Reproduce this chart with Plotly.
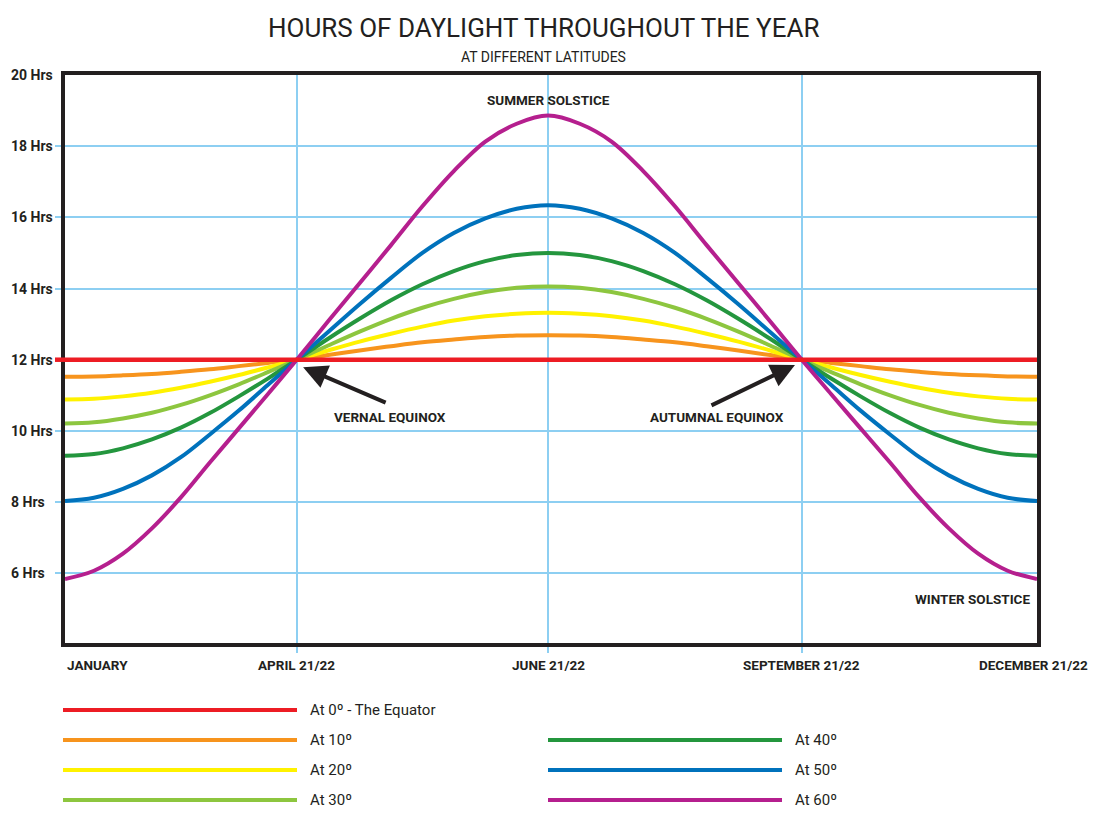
import plotly.graph_objects as go

# ---------------- data ----------------
# x: position along the year axis (0 = January, 100 = December 21/22)
x_pos = [0, 2.98, 5.96, 8.94, 11.92, 14.9, 17.88, 20.86, 23.84,
         27.07, 30.31, 33.54, 36.77, 40.0, 43.24, 46.47, 49.7,
         52.96, 56.23, 59.49, 62.75, 66.01, 69.28, 72.54, 75.8,
         78.83, 81.85, 84.88, 87.9, 90.93, 93.95, 96.98, 100]

tick_x = [0, 23.84, 49.7, 75.8, 100]
tick_text = ["JANUARY", "APRIL 21/22", "JUNE 21/22", "SEPTEMBER 21/22", "DECEMBER 21/22"]

y_ticks = [20, 18, 16, 14, 12, 10, 8, 6]
y_tick_text = ["20 Hrs", "18 Hrs", "16 Hrs", "14 Hrs", "12 Hrs", "10 Hrs", "8 Hrs", "6 Hrs"]

equator_x = [0, 100]
lat_0 = [12, 12]
lat_10 = [11.52, 11.53, 11.56, 11.60, 11.66, 11.73, 11.82, 11.91, 12,
          12.13, 12.26, 12.38, 12.49, 12.57, 12.64, 12.68, 12.69,
          12.68, 12.64, 12.57, 12.49, 12.38, 12.26, 12.13, 12,
          11.91, 11.82, 11.73, 11.66, 11.60, 11.56, 11.53, 11.52]
lat_20 = [10.88, 10.90, 10.97, 11.07, 11.21, 11.38, 11.57, 11.78, 12,
          12.26, 12.51, 12.73, 12.93, 13.10, 13.22, 13.29, 13.32,
          13.29, 13.22, 13.10, 12.93, 12.73, 12.51, 12.26, 12,
          11.78, 11.57, 11.38, 11.21, 11.07, 10.97, 10.90, 10.88]
lat_30 = [10.21, 10.24, 10.35, 10.51, 10.73, 11.00, 11.31, 11.65, 12,
          12.40, 12.79, 13.15, 13.46, 13.71, 13.90, 14.02, 14.06,
          14.02, 13.90, 13.71, 13.46, 13.15, 12.79, 12.40, 12,
          11.65, 11.31, 11.00, 10.73, 10.51, 10.35, 10.24, 10.21]
lat_40 = [9.30, 9.35, 9.51, 9.76, 10.09, 10.50, 10.97, 11.47, 12,
          12.59, 13.15, 13.67, 14.12, 14.49, 14.77, 14.94, 15.0,
          14.94, 14.77, 14.49, 14.12, 13.67, 13.15, 12.59, 12,
          11.47, 10.97, 10.50, 10.09, 9.76, 9.51, 9.35, 9.30]
lat_50 = [8.03, 8.12, 8.37, 8.75, 9.26, 9.90, 10.57, 11.29, 12,
          12.78, 13.56, 14.30, 15.00, 15.56, 15.97, 16.24, 16.34,
          16.24, 15.97, 15.56, 15.00, 14.30, 13.56, 12.78, 12,
          11.29, 10.57, 9.90, 9.26, 8.75, 8.37, 8.12, 8.03]
lat_60 = [5.84, 6.07, 6.55, 7.26, 8.13, 9.11, 10.07, 11.03, 12,
          13.08, 14.15, 15.22, 16.31, 17.30, 18.13, 18.63, 18.86,
          18.63, 18.13, 17.30, 16.31, 15.22, 14.15, 13.08, 12,
          11.03, 10.07, 9.11, 8.13, 7.26, 6.55, 6.07, 5.84]

series_names = ["At 0º - The Equator", "At 10º", "At 20º", "At 30º", "At 40º", "At 50º", "At 60º"]
series_values = [lat_0, lat_10, lat_20, lat_30, lat_40, lat_50, lat_60]
series_colors = ["#ED1C24", "#F7941D", "#FFF200", "#8DC63F", "#24963E", "#0072BC", "#B51F8E"]

# ---------------- figure ----------------
FONT = "Roboto, Lato, sans-serif"
INK = "#231F20"
GRID = "#8DCFF2"

W, H = 1100, 826
L, R, T, B = 65, 63, 75, 183
pw, ph = W - L - R, H - T - B

def px_x(p):
    return (p - L) / pw

def px_y(p):
    return (H - B - p) / ph

fig = go.Figure()

# latitudes (others first, equator last so it sits on top)
for i in list(range(1, 7)) + [0]:
    xs = equator_x if i == 0 else x_pos
    fig.add_trace(go.Scatter(
        x=xs, y=series_values[i], mode="lines", name=series_names[i],
        line=dict(color=series_colors[i], width=4.5 if i == 0 else 4, shape="spline", smoothing=1.0),
        showlegend=False, hoverinfo="skip"))

shapes = []
annotations = []

# red stub of the 12 Hrs line left of the frame
shapes.append(dict(type="line", xref="paper", yref="y", x0=px_x(55), x1=0, y0=12, y1=12,
                   line=dict(color=series_colors[0], width=4.5)))

bold = dict(family=FONT, size=14, color=INK, weight="bold")

# y labels
for v, t in zip(y_ticks, y_tick_text):
    annotations.append(dict(xref="paper", yref="y", x=px_x(9), y=v, text=t, showarrow=False,
                            xanchor="left", yanchor="middle", font=bold))

# x labels
for i, (v, t) in enumerate(zip(tick_x, tick_text)):
    anchor = "left" if i == 0 else "center"
    annotations.append(dict(xref="x", yref="paper", x=v, y=px_y(665), text=t, showarrow=False,
                            xanchor=anchor, yanchor="middle", xshift=-4 if i == 4 else 0,
                            font=dict(family=FONT, size=13.5, color=INK, weight="bold")))

lab_font = dict(family=FONT, size=13.5, color=INK, weight="bold")
annotations += [
    dict(x=49.7, y=19.31, text="SUMMER SOLSTICE", showarrow=False, font=lab_font),
    dict(x=33.4, y=10.39, text="VERNAL EQUINOX", showarrow=False, font=lab_font),
    dict(x=67.1, y=10.39, text="AUTUMNAL EQUINOX", showarrow=False, font=lab_font),
    dict(x=99.5, y=5.28, text="WINTER SOLSTICE", showarrow=False, xanchor="right", font=lab_font),
    # arrows
    dict(x=24.5, y=11.79, ax=84, ay=36, text="", showarrow=True, arrowhead=2,
         arrowsize=1.2, arrowwidth=4, arrowcolor=INK),
    dict(x=75.1, y=11.85, ax=-85, ay=41, text="", showarrow=True, arrowhead=2,
         arrowsize=1.2, arrowwidth=4, arrowcolor=INK),
]

# title
annotations += [
    dict(xref="paper", yref="paper", x=px_x(543), y=px_y(28), text="HOURS OF DAYLIGHT THROUGHOUT THE YEAR",
         showarrow=False, xanchor="center", yanchor="middle",
         font=dict(family=FONT, size=26, color=INK)),
    dict(xref="paper", yref="paper", x=px_x(543), y=px_y(57), text="AT DIFFERENT LATITUDES",
         showarrow=False, xanchor="center", yanchor="middle",
         font=dict(family=FONT, size=14, color=INK)),
]

# custom legend
legend_slots = [(63, 297, 710), (63, 297, 740), (63, 297, 770), (63, 297, 800),
                (548, 782, 740), (548, 782, 770), (548, 782, 800)]
for i, (xa, xb, yy) in enumerate(legend_slots):
    shapes.append(dict(type="line", xref="paper", yref="paper", x0=px_x(xa), x1=px_x(xb),
                       y0=px_y(yy), y1=px_y(yy), line=dict(color=series_colors[i], width=4)))
    annotations.append(dict(xref="paper", yref="paper", x=px_x(xb + 11), y=px_y(yy), text=series_names[i],
                            showarrow=False, xanchor="left", yanchor="middle",
                            font=dict(family=FONT, size=15, color=INK)))

fig.update_layout(
    width=W, height=H,
    margin=dict(l=L, r=R, t=T, b=B),
    paper_bgcolor="white", plot_bgcolor="white",
    shapes=shapes, annotations=annotations,
    showlegend=False,
)
fig.update_xaxes(range=[0, 100], tickvals=tick_x[1:4], showticklabels=False,
                 showgrid=True, gridcolor=GRID, gridwidth=1.5,
                 ticks="outside", ticklen=6, tickcolor=GRID, tickwidth=1.5,
                 showline=True, linecolor=INK, linewidth=4, mirror=True, zeroline=False)
fig.update_yaxes(range=[4.04, 20], tickvals=[6, 8, 10, 14, 16, 18], showticklabels=False,
                 showgrid=True, gridcolor=GRID, gridwidth=1.5,
                 ticks="outside", ticklen=6, tickcolor=GRID, tickwidth=1.5,
                 showline=True, linecolor=INK, linewidth=4, mirror=True, zeroline=False)

fig.write_html("out.html")
